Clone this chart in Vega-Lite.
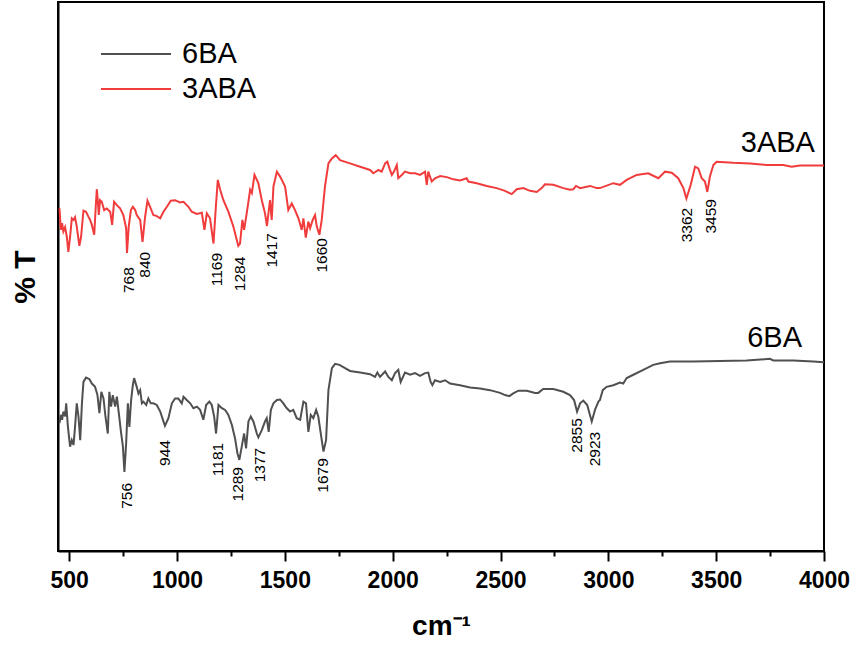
{
  "$schema": "https://vega.github.io/schema/vega-lite/v6.json",
  "width": 766,
  "height": 549,
  "autosize": "none",
  "padding": {"left": 58, "top": 2, "right": 33, "bottom": 94},
  "background": "white",
  "config": {
    "font": "Liberation Sans",
    "view": {"stroke": "black", "strokeWidth": 2}
  },
  "datasets": {
    "spectra": [
      {"sample":"3ABA","wavenumber":455,"T":62.4},{"sample":"3ABA","wavenumber":461,"T":58.5},{"sample":"3ABA","wavenumber":467,"T":59.7},{"sample":"3ABA","wavenumber":473,"T":58.2},{"sample":"3ABA","wavenumber":481,"T":59.0},{"sample":"3ABA","wavenumber":489,"T":57.2},{"sample":"3ABA","wavenumber":496,"T":54.5},{"sample":"3ABA","wavenumber":504,"T":57.2},{"sample":"3ABA","wavenumber":512,"T":60.6},{"sample":"3ABA","wavenumber":520,"T":60.3},{"sample":"3ABA","wavenumber":527,"T":60.8},{"sample":"3ABA","wavenumber":535,"T":59.1},{"sample":"3ABA","wavenumber":547,"T":55.6},{"sample":"3ABA","wavenumber":555,"T":57.2},{"sample":"3ABA","wavenumber":566,"T":62.0},{"sample":"3ABA","wavenumber":578,"T":61.8},{"sample":"3ABA","wavenumber":589,"T":60.9},{"sample":"3ABA","wavenumber":597,"T":60.3},{"sample":"3ABA","wavenumber":605,"T":59.4},{"sample":"3ABA","wavenumber":616,"T":57.6},{"sample":"3ABA","wavenumber":623,"T":62.7},{"sample":"3ABA","wavenumber":628,"T":65.9},{"sample":"3ABA","wavenumber":633,"T":63.6},{"sample":"3ABA","wavenumber":637,"T":61.2},{"sample":"3ABA","wavenumber":643,"T":63.9},{"sample":"3ABA","wavenumber":651,"T":63.6},{"sample":"3ABA","wavenumber":662,"T":62.1},{"sample":"3ABA","wavenumber":674,"T":62.4},{"sample":"3ABA","wavenumber":690,"T":61.8},{"sample":"3ABA","wavenumber":699,"T":59.4},{"sample":"3ABA","wavenumber":708,"T":63.6},{"sample":"3ABA","wavenumber":721,"T":63.0},{"sample":"3ABA","wavenumber":736,"T":62.4},{"sample":"3ABA","wavenumber":751,"T":61.2},{"sample":"3ABA","wavenumber":764,"T":58.8},{"sample":"3ABA","wavenumber":768,"T":54.3},{"sample":"3ABA","wavenumber":776,"T":59.1},{"sample":"3ABA","wavenumber":786,"T":62.1},{"sample":"3ABA","wavenumber":795,"T":62.7},{"sample":"3ABA","wavenumber":806,"T":62.1},{"sample":"3ABA","wavenumber":813,"T":61.2},{"sample":"3ABA","wavenumber":829,"T":60.3},{"sample":"3ABA","wavenumber":840,"T":56.3},{"sample":"3ABA","wavenumber":852,"T":60.9},{"sample":"3ABA","wavenumber":863,"T":63.8},{"sample":"3ABA","wavenumber":875,"T":62.7},{"sample":"3ABA","wavenumber":890,"T":61.2},{"sample":"3ABA","wavenumber":906,"T":61.0},{"sample":"3ABA","wavenumber":922,"T":60.6},{"sample":"3ABA","wavenumber":937,"T":61.8},{"sample":"3ABA","wavenumber":953,"T":62.7},{"sample":"3ABA","wavenumber":971,"T":63.8},{"sample":"3ABA","wavenumber":991,"T":63.9},{"sample":"3ABA","wavenumber":1014,"T":63.5},{"sample":"3ABA","wavenumber":1030,"T":63.6},{"sample":"3ABA","wavenumber":1053,"T":62.7},{"sample":"3ABA","wavenumber":1068,"T":61.8},{"sample":"3ABA","wavenumber":1092,"T":61.4},{"sample":"3ABA","wavenumber":1115,"T":61.6},{"sample":"3ABA","wavenumber":1127,"T":58.5},{"sample":"3ABA","wavenumber":1138,"T":61.5},{"sample":"3ABA","wavenumber":1153,"T":60.6},{"sample":"3ABA","wavenumber":1169,"T":56.0},{"sample":"3ABA","wavenumber":1180,"T":62.7},{"sample":"3ABA","wavenumber":1189,"T":67.6},{"sample":"3ABA","wavenumber":1200,"T":65.8},{"sample":"3ABA","wavenumber":1215,"T":63.9},{"sample":"3ABA","wavenumber":1238,"T":61.8},{"sample":"3ABA","wavenumber":1261,"T":59.1},{"sample":"3ABA","wavenumber":1284,"T":55.6},{"sample":"3ABA","wavenumber":1292,"T":56.0},{"sample":"3ABA","wavenumber":1303,"T":60.3},{"sample":"3ABA","wavenumber":1311,"T":58.5},{"sample":"3ABA","wavenumber":1323,"T":61.5},{"sample":"3ABA","wavenumber":1339,"T":65.8},{"sample":"3ABA","wavenumber":1347,"T":65.2},{"sample":"3ABA","wavenumber":1359,"T":68.5},{"sample":"3ABA","wavenumber":1377,"T":67.0},{"sample":"3ABA","wavenumber":1393,"T":63.9},{"sample":"3ABA","wavenumber":1408,"T":61.5},{"sample":"3ABA","wavenumber":1417,"T":59.2},{"sample":"3ABA","wavenumber":1431,"T":63.9},{"sample":"3ABA","wavenumber":1439,"T":60.3},{"sample":"3ABA","wavenumber":1447,"T":66.4},{"sample":"3ABA","wavenumber":1463,"T":69.1},{"sample":"3ABA","wavenumber":1478,"T":68.2},{"sample":"3ABA","wavenumber":1501,"T":66.4},{"sample":"3ABA","wavenumber":1516,"T":62.1},{"sample":"3ABA","wavenumber":1532,"T":63.3},{"sample":"3ABA","wavenumber":1547,"T":62.1},{"sample":"3ABA","wavenumber":1563,"T":60.6},{"sample":"3ABA","wavenumber":1578,"T":58.5},{"sample":"3ABA","wavenumber":1586,"T":60.6},{"sample":"3ABA","wavenumber":1597,"T":57.1},{"sample":"3ABA","wavenumber":1609,"T":60.0},{"sample":"3ABA","wavenumber":1617,"T":58.8},{"sample":"3ABA","wavenumber":1629,"T":60.3},{"sample":"3ABA","wavenumber":1640,"T":61.2},{"sample":"3ABA","wavenumber":1648,"T":59.1},{"sample":"3ABA","wavenumber":1660,"T":57.6},{"sample":"3ABA","wavenumber":1671,"T":60.3},{"sample":"3ABA","wavenumber":1686,"T":66.4},{"sample":"3ABA","wavenumber":1702,"T":70.6},{"sample":"3ABA","wavenumber":1718,"T":71.5},{"sample":"3ABA","wavenumber":1736,"T":72.1},{"sample":"3ABA","wavenumber":1756,"T":71.2},{"sample":"3ABA","wavenumber":1802,"T":70.6},{"sample":"3ABA","wavenumber":1849,"T":70.0},{"sample":"3ABA","wavenumber":1895,"T":69.4},{"sample":"3ABA","wavenumber":1910,"T":68.8},{"sample":"3ABA","wavenumber":1934,"T":69.4},{"sample":"3ABA","wavenumber":1949,"T":69.1},{"sample":"3ABA","wavenumber":1965,"T":70.6},{"sample":"3ABA","wavenumber":1975,"T":70.9},{"sample":"3ABA","wavenumber":1985,"T":69.7},{"sample":"3ABA","wavenumber":1996,"T":68.5},{"sample":"3ABA","wavenumber":2006,"T":69.1},{"sample":"3ABA","wavenumber":2019,"T":70.3},{"sample":"3ABA","wavenumber":2026,"T":67.9},{"sample":"3ABA","wavenumber":2042,"T":68.5},{"sample":"3ABA","wavenumber":2057,"T":69.1},{"sample":"3ABA","wavenumber":2081,"T":68.8},{"sample":"3ABA","wavenumber":2104,"T":68.8},{"sample":"3ABA","wavenumber":2127,"T":68.5},{"sample":"3ABA","wavenumber":2150,"T":69.1},{"sample":"3ABA","wavenumber":2158,"T":66.7},{"sample":"3ABA","wavenumber":2165,"T":69.1},{"sample":"3ABA","wavenumber":2181,"T":67.3},{"sample":"3ABA","wavenumber":2196,"T":67.9},{"sample":"3ABA","wavenumber":2220,"T":68.3},{"sample":"3ABA","wavenumber":2251,"T":68.1},{"sample":"3ABA","wavenumber":2281,"T":67.7},{"sample":"3ABA","wavenumber":2312,"T":67.5},{"sample":"3ABA","wavenumber":2343,"T":67.9},{"sample":"3ABA","wavenumber":2351,"T":67.3},{"sample":"3ABA","wavenumber":2390,"T":67.0},{"sample":"3ABA","wavenumber":2436,"T":66.5},{"sample":"3ABA","wavenumber":2482,"T":66.1},{"sample":"3ABA","wavenumber":2521,"T":65.6},{"sample":"3ABA","wavenumber":2552,"T":65.0},{"sample":"3ABA","wavenumber":2575,"T":65.9},{"sample":"3ABA","wavenumber":2606,"T":66.1},{"sample":"3ABA","wavenumber":2637,"T":65.6},{"sample":"3ABA","wavenumber":2668,"T":65.4},{"sample":"3ABA","wavenumber":2691,"T":66.1},{"sample":"3ABA","wavenumber":2706,"T":66.8},{"sample":"3ABA","wavenumber":2745,"T":66.7},{"sample":"3ABA","wavenumber":2791,"T":66.1},{"sample":"3ABA","wavenumber":2822,"T":65.8},{"sample":"3ABA","wavenumber":2838,"T":65.9},{"sample":"3ABA","wavenumber":2850,"T":66.5},{"sample":"3ABA","wavenumber":2869,"T":66.1},{"sample":"3ABA","wavenumber":2915,"T":66.5},{"sample":"3ABA","wavenumber":2946,"T":66.1},{"sample":"3ABA","wavenumber":2961,"T":66.1},{"sample":"3ABA","wavenumber":3023,"T":67.0},{"sample":"3ABA","wavenumber":3054,"T":66.7},{"sample":"3ABA","wavenumber":3085,"T":67.6},{"sample":"3ABA","wavenumber":3131,"T":68.5},{"sample":"3ABA","wavenumber":3185,"T":68.8},{"sample":"3ABA","wavenumber":3232,"T":67.9},{"sample":"3ABA","wavenumber":3263,"T":69.1},{"sample":"3ABA","wavenumber":3294,"T":68.9},{"sample":"3ABA","wavenumber":3324,"T":67.9},{"sample":"3ABA","wavenumber":3348,"T":66.1},{"sample":"3ABA","wavenumber":3362,"T":64.2},{"sample":"3ABA","wavenumber":3382,"T":66.7},{"sample":"3ABA","wavenumber":3402,"T":70.0},{"sample":"3ABA","wavenumber":3417,"T":69.7},{"sample":"3ABA","wavenumber":3433,"T":67.9},{"sample":"3ABA","wavenumber":3448,"T":67.3},{"sample":"3ABA","wavenumber":3459,"T":65.4},{"sample":"3ABA","wavenumber":3471,"T":68.2},{"sample":"3ABA","wavenumber":3487,"T":70.3},{"sample":"3ABA","wavenumber":3502,"T":70.9},{"sample":"3ABA","wavenumber":3579,"T":70.7},{"sample":"3ABA","wavenumber":3657,"T":70.6},{"sample":"3ABA","wavenumber":3734,"T":70.3},{"sample":"3ABA","wavenumber":3811,"T":70.3},{"sample":"3ABA","wavenumber":3850,"T":70.0},{"sample":"3ABA","wavenumber":3889,"T":70.2},{"sample":"3ABA","wavenumber":4000,"T":70.2},
      {"sample":"6BA","wavenumber":455,"T":23.3},{"sample":"6BA","wavenumber":461,"T":24.8},{"sample":"6BA","wavenumber":467,"T":23.9},{"sample":"6BA","wavenumber":473,"T":25.4},{"sample":"6BA","wavenumber":481,"T":24.5},{"sample":"6BA","wavenumber":486,"T":26.9},{"sample":"6BA","wavenumber":494,"T":22.6},{"sample":"6BA","wavenumber":504,"T":19.0},{"sample":"6BA","wavenumber":512,"T":20.2},{"sample":"6BA","wavenumber":520,"T":19.3},{"sample":"6BA","wavenumber":527,"T":22.6},{"sample":"6BA","wavenumber":535,"T":26.9},{"sample":"6BA","wavenumber":543,"T":24.5},{"sample":"6BA","wavenumber":551,"T":20.2},{"sample":"6BA","wavenumber":559,"T":26.9},{"sample":"6BA","wavenumber":566,"T":30.8},{"sample":"6BA","wavenumber":578,"T":31.6},{"sample":"6BA","wavenumber":594,"T":31.3},{"sample":"6BA","wavenumber":605,"T":30.5},{"sample":"6BA","wavenumber":620,"T":29.9},{"sample":"6BA","wavenumber":631,"T":28.4},{"sample":"6BA","wavenumber":640,"T":25.1},{"sample":"6BA","wavenumber":649,"T":29.0},{"sample":"6BA","wavenumber":659,"T":27.8},{"sample":"6BA","wavenumber":668,"T":24.5},{"sample":"6BA","wavenumber":679,"T":21.4},{"sample":"6BA","wavenumber":686,"T":29.0},{"sample":"6BA","wavenumber":694,"T":26.3},{"sample":"6BA","wavenumber":702,"T":28.4},{"sample":"6BA","wavenumber":713,"T":26.3},{"sample":"6BA","wavenumber":721,"T":28.1},{"sample":"6BA","wavenumber":730,"T":25.1},{"sample":"6BA","wavenumber":739,"T":22.0},{"sample":"6BA","wavenumber":749,"T":19.0},{"sample":"6BA","wavenumber":756,"T":14.4},{"sample":"6BA","wavenumber":764,"T":19.6},{"sample":"6BA","wavenumber":772,"T":26.9},{"sample":"6BA","wavenumber":779,"T":22.6},{"sample":"6BA","wavenumber":787,"T":27.5},{"sample":"6BA","wavenumber":795,"T":30.2},{"sample":"6BA","wavenumber":801,"T":31.5},{"sample":"6BA","wavenumber":813,"T":29.9},{"sample":"6BA","wavenumber":821,"T":28.7},{"sample":"6BA","wavenumber":829,"T":29.3},{"sample":"6BA","wavenumber":837,"T":26.9},{"sample":"6BA","wavenumber":844,"T":27.2},{"sample":"6BA","wavenumber":857,"T":26.6},{"sample":"6BA","wavenumber":867,"T":27.8},{"sample":"6BA","wavenumber":878,"T":26.9},{"sample":"6BA","wavenumber":890,"T":26.9},{"sample":"6BA","wavenumber":906,"T":26.6},{"sample":"6BA","wavenumber":922,"T":25.4},{"sample":"6BA","wavenumber":937,"T":23.6},{"sample":"6BA","wavenumber":944,"T":22.8},{"sample":"6BA","wavenumber":960,"T":24.2},{"sample":"6BA","wavenumber":976,"T":26.9},{"sample":"6BA","wavenumber":991,"T":27.8},{"sample":"6BA","wavenumber":1006,"T":27.8},{"sample":"6BA","wavenumber":1022,"T":26.9},{"sample":"6BA","wavenumber":1030,"T":28.1},{"sample":"6BA","wavenumber":1045,"T":27.5},{"sample":"6BA","wavenumber":1061,"T":26.9},{"sample":"6BA","wavenumber":1076,"T":26.0},{"sample":"6BA","wavenumber":1092,"T":26.3},{"sample":"6BA","wavenumber":1107,"T":25.7},{"sample":"6BA","wavenumber":1122,"T":23.9},{"sample":"6BA","wavenumber":1135,"T":26.6},{"sample":"6BA","wavenumber":1150,"T":27.2},{"sample":"6BA","wavenumber":1161,"T":26.6},{"sample":"6BA","wavenumber":1172,"T":24.5},{"sample":"6BA","wavenumber":1181,"T":21.4},{"sample":"6BA","wavenumber":1192,"T":26.6},{"sample":"6BA","wavenumber":1208,"T":26.0},{"sample":"6BA","wavenumber":1223,"T":25.7},{"sample":"6BA","wavenumber":1238,"T":24.8},{"sample":"6BA","wavenumber":1254,"T":23.0},{"sample":"6BA","wavenumber":1269,"T":20.5},{"sample":"6BA","wavenumber":1280,"T":17.8},{"sample":"6BA","wavenumber":1289,"T":16.6},{"sample":"6BA","wavenumber":1300,"T":19.0},{"sample":"6BA","wavenumber":1311,"T":21.4},{"sample":"6BA","wavenumber":1320,"T":18.7},{"sample":"6BA","wavenumber":1331,"T":23.6},{"sample":"6BA","wavenumber":1342,"T":24.5},{"sample":"6BA","wavenumber":1354,"T":23.6},{"sample":"6BA","wavenumber":1370,"T":21.4},{"sample":"6BA","wavenumber":1377,"T":20.7},{"sample":"6BA","wavenumber":1393,"T":22.0},{"sample":"6BA","wavenumber":1408,"T":23.6},{"sample":"6BA","wavenumber":1416,"T":24.2},{"sample":"6BA","wavenumber":1425,"T":21.7},{"sample":"6BA","wavenumber":1435,"T":25.7},{"sample":"6BA","wavenumber":1447,"T":26.9},{"sample":"6BA","wavenumber":1463,"T":27.5},{"sample":"6BA","wavenumber":1478,"T":27.6},{"sample":"6BA","wavenumber":1493,"T":26.9},{"sample":"6BA","wavenumber":1509,"T":26.0},{"sample":"6BA","wavenumber":1524,"T":25.4},{"sample":"6BA","wavenumber":1539,"T":25.7},{"sample":"6BA","wavenumber":1555,"T":24.2},{"sample":"6BA","wavenumber":1571,"T":23.9},{"sample":"6BA","wavenumber":1586,"T":27.2},{"sample":"6BA","wavenumber":1598,"T":26.9},{"sample":"6BA","wavenumber":1609,"T":21.7},{"sample":"6BA","wavenumber":1620,"T":24.8},{"sample":"6BA","wavenumber":1632,"T":24.2},{"sample":"6BA","wavenumber":1645,"T":25.7},{"sample":"6BA","wavenumber":1655,"T":24.5},{"sample":"6BA","wavenumber":1671,"T":20.2},{"sample":"6BA","wavenumber":1679,"T":18.1},{"sample":"6BA","wavenumber":1691,"T":20.2},{"sample":"6BA","wavenumber":1702,"T":29.3},{"sample":"6BA","wavenumber":1718,"T":33.3},{"sample":"6BA","wavenumber":1733,"T":34.1},{"sample":"6BA","wavenumber":1753,"T":33.9},{"sample":"6BA","wavenumber":1802,"T":32.8},{"sample":"6BA","wavenumber":1849,"T":32.5},{"sample":"6BA","wavenumber":1895,"T":32.2},{"sample":"6BA","wavenumber":1918,"T":31.7},{"sample":"6BA","wavenumber":1929,"T":32.5},{"sample":"6BA","wavenumber":1941,"T":31.7},{"sample":"6BA","wavenumber":1965,"T":32.7},{"sample":"6BA","wavenumber":1980,"T":31.7},{"sample":"6BA","wavenumber":1996,"T":31.1},{"sample":"6BA","wavenumber":2011,"T":32.4},{"sample":"6BA","wavenumber":2026,"T":33.0},{"sample":"6BA","wavenumber":2037,"T":30.8},{"sample":"6BA","wavenumber":2057,"T":32.5},{"sample":"6BA","wavenumber":2081,"T":32.1},{"sample":"6BA","wavenumber":2104,"T":32.4},{"sample":"6BA","wavenumber":2127,"T":31.9},{"sample":"6BA","wavenumber":2150,"T":32.4},{"sample":"6BA","wavenumber":2165,"T":32.5},{"sample":"6BA","wavenumber":2176,"T":30.8},{"sample":"6BA","wavenumber":2184,"T":30.2},{"sample":"6BA","wavenumber":2196,"T":31.1},{"sample":"6BA","wavenumber":2220,"T":30.8},{"sample":"6BA","wavenumber":2243,"T":31.1},{"sample":"6BA","wavenumber":2266,"T":30.5},{"sample":"6BA","wavenumber":2312,"T":30.2},{"sample":"6BA","wavenumber":2359,"T":29.8},{"sample":"6BA","wavenumber":2405,"T":29.6},{"sample":"6BA","wavenumber":2451,"T":29.3},{"sample":"6BA","wavenumber":2498,"T":28.8},{"sample":"6BA","wavenumber":2521,"T":28.4},{"sample":"6BA","wavenumber":2541,"T":28.2},{"sample":"6BA","wavenumber":2559,"T":28.7},{"sample":"6BA","wavenumber":2583,"T":29.2},{"sample":"6BA","wavenumber":2622,"T":29.2},{"sample":"6BA","wavenumber":2660,"T":28.8},{"sample":"6BA","wavenumber":2675,"T":28.8},{"sample":"6BA","wavenumber":2698,"T":29.5},{"sample":"6BA","wavenumber":2745,"T":29.5},{"sample":"6BA","wavenumber":2791,"T":29.0},{"sample":"6BA","wavenumber":2822,"T":28.4},{"sample":"6BA","wavenumber":2841,"T":27.5},{"sample":"6BA","wavenumber":2855,"T":25.4},{"sample":"6BA","wavenumber":2869,"T":26.9},{"sample":"6BA","wavenumber":2884,"T":27.4},{"sample":"6BA","wavenumber":2902,"T":26.6},{"sample":"6BA","wavenumber":2923,"T":23.6},{"sample":"6BA","wavenumber":2938,"T":25.7},{"sample":"6BA","wavenumber":2954,"T":27.2},{"sample":"6BA","wavenumber":2961,"T":27.5},{"sample":"6BA","wavenumber":2974,"T":29.3},{"sample":"6BA","wavenumber":2992,"T":29.9},{"sample":"6BA","wavenumber":3023,"T":30.2},{"sample":"6BA","wavenumber":3054,"T":30.7},{"sample":"6BA","wavenumber":3069,"T":30.5},{"sample":"6BA","wavenumber":3085,"T":31.5},{"sample":"6BA","wavenumber":3116,"T":32.1},{"sample":"6BA","wavenumber":3162,"T":33.0},{"sample":"6BA","wavenumber":3208,"T":33.9},{"sample":"6BA","wavenumber":3240,"T":34.2},{"sample":"6BA","wavenumber":3286,"T":34.5},{"sample":"6BA","wavenumber":3394,"T":34.5},{"sample":"6BA","wavenumber":3518,"T":34.6},{"sample":"6BA","wavenumber":3641,"T":34.7},{"sample":"6BA","wavenumber":3749,"T":35.0},{"sample":"6BA","wavenumber":3765,"T":34.7},{"sample":"6BA","wavenumber":3857,"T":34.7},{"sample":"6BA","wavenumber":3950,"T":34.5},{"sample":"6BA","wavenumber":4000,"T":34.4}
    ],
    "peaks": [
      {"label":"768","wavenumber":778,"T":51.7},
      {"label":"840","wavenumber":852,"T":54.5},
      {"label":"1169","wavenumber":1186,"T":54.3},
      {"label":"1284","wavenumber":1292,"T":53.6},
      {"label":"1417","wavenumber":1441,"T":57.9},
      {"label":"1660","wavenumber":1672,"T":57.0},
      {"label":"3362","wavenumber":3365,"T":62.5},
      {"label":"3459","wavenumber":3476,"T":64.1},
      {"label":"756","wavenumber":768,"T":12.4},
      {"label":"944","wavenumber":945,"T":20.2},
      {"label":"1181","wavenumber":1190,"T":19.7},
      {"label":"1289","wavenumber":1283,"T":15.3},
      {"label":"1377","wavenumber":1385,"T":18.8},
      {"label":"1679","wavenumber":1677,"T":16.9},
      {"label":"2855","wavenumber":2855,"T":24.2},
      {"label":"2923","wavenumber":2938,"T":21.7}
    ],
    "names": [
      {"name":"3ABA","wavenumber":3958,"T":72.7},
      {"name":"6BA","wavenumber":3898,"T":37.2}
    ]
  },
  "layer": [
    {
      "data": {"name": "spectra"},
      "mark": {"type": "line", "strokeWidth": 2},
      "encoding": {
        "x": {
          "field": "wavenumber", "type": "quantitative",
          "scale": {"domain": [448, 4000], "nice": false, "zero": false},
          "axis": {
            "values": [500,750,1000,1250,1500,1750,2000,2250,2500,2750,3000,3250,3500,3750,4000],
            "format": "d",
            "labelExpr": "datum.value % 500 === 0 ? datum.label : ''",
            "tickSize": {"condition": {"test": "datum.value % 500 === 0", "value": 10}, "value": 5},
            "tickWidth": 2, "tickColor": "black",
            "domainColor": "black", "domainWidth": 2,
            "grid": false,
            "labelFontSize": 23, "labelFontWeight": "bold", "labelColor": "black",
            "labelPadding": 8, "labelFlush": false, "labelOverlap": false,
            "title": "cm⁻¹", "titleFontSize": 28, "titleFontWeight": "bold",
            "titleColor": "black", "titlePadding": 20
          }
        },
        "y": {
          "field": "T", "type": "quantitative",
          "scale": {"domain": [0, 100], "nice": false},
          "axis": {
            "labels": false, "ticks": false, "grid": false,
            "domainColor": "black", "domainWidth": 2,
            "title": "% T", "titleFontSize": 30, "titleFontWeight": "bold",
            "titleColor": "black", "titlePadding": 18
          }
        },
        "color": {
          "field": "sample", "type": "nominal",
          "scale": {"domain": ["6BA", "3ABA"], "range": ["#505050", "#f03c3c"]},
          "legend": {
            "title": null, "orient": "none", "legendX": 42, "legendY": 36,
            "symbolType": "stroke", "symbolSize": 4900, "symbolStrokeWidth": 2,
            "labelFontSize": 29, "labelColor": "black", "labelOffset": 10,
            "clipHeight": 32, "rowPadding": 3, "padding": 0
          }
        }
      }
    },
    {
      "data": {"name": "peaks"},
      "mark": {"type": "text", "angle": 270, "align": "right", "baseline": "middle", "fontSize": 15.5, "color": "black"},
      "encoding": {
        "x": {"field": "wavenumber", "type": "quantitative"},
        "y": {"field": "T", "type": "quantitative"},
        "text": {"field": "label", "type": "nominal"}
      }
    },
    {
      "data": {"name": "names"},
      "mark": {"type": "text", "align": "right", "baseline": "alphabetic", "fontSize": 29, "color": "black"},
      "encoding": {
        "x": {"field": "wavenumber", "type": "quantitative"},
        "y": {"field": "T", "type": "quantitative"},
        "text": {"field": "name", "type": "nominal"}
      }
    }
  ]
}
